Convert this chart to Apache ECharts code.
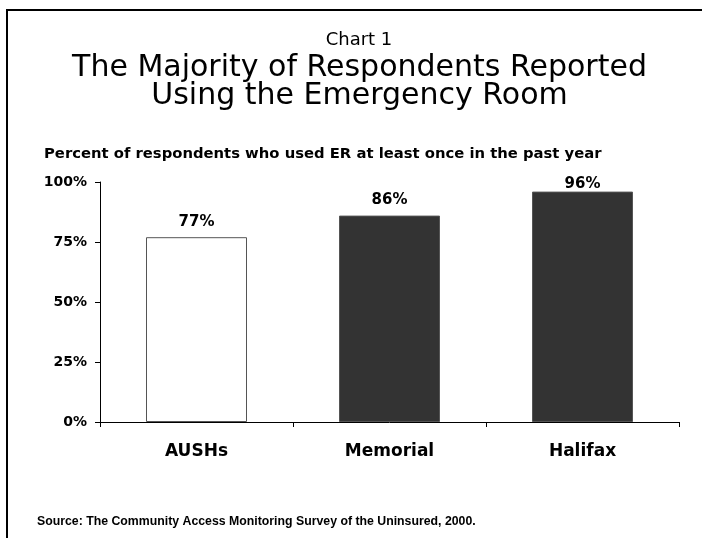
<!DOCTYPE html>
<html><head><meta charset="utf-8">
<script src="https://cdn.jsdelivr.net/npm/echarts@6/dist/echarts.min.js"></script>
<style>html,body{margin:0;padding:0;background:#fff}#c{width:702px;height:538px}</style>
</head><body><div id="c"></div>
<script>
var categories = ['AUSHs', 'Memorial', 'Halifax'];
var values = [77, 86, 96];
var barColors = ['#ffffff', '#333333', '#333333'];
var labelDistances = [8, 8, 0];
var yTicks = [0, 25, 50, 75, 100];
var titleLines = ['The Majority of Respondents Reported', 'Using the Emergency Room'];

var chart = echarts.init(document.getElementById('c'));
chart.setOption({
  animation: false,
  backgroundColor: '#fff',
  graphic: [
    {type: 'rect', shape: {x: 7, y: 10, width: 720, height: 560},
     style: {fill: 'none', stroke: '#000', lineWidth: 2}},
    {type: 'text', x: 359, y: 40.5,
     style: {text: 'Chart 1', align: 'center', verticalAlign: 'middle', fill: '#000',
             font: 'normal 18px "DejaVu Sans"'}},
    {type: 'text', x: 359.5, y: 68.5,
     style: {text: titleLines[0], align: 'center', verticalAlign: 'middle', fill: '#000',
             font: 'normal 30px "DejaVu Sans"'}},
    {type: 'text', x: 359.5, y: 96.5,
     style: {text: titleLines[1], align: 'center', verticalAlign: 'middle', fill: '#000',
             font: 'normal 30px "DejaVu Sans"'}}
  ],
  title: [
    {text: 'Percent of respondents who used ER at least once in the past year', left: 39, top: 142,
     textStyle: {fontFamily: 'DejaVu Sans', fontWeight: 'bold', fontSize: 14.8, color: '#000'}},
    {text: 'Source: The Community Access Monitoring Survey of the Uninsured, 2000.', left: 32, top: 511,
     textStyle: {fontFamily: 'Liberation Sans', fontWeight: 'bold', fontSize: 12.3, color: '#000'}}
  ],
  grid: {left: 100, right: 23, top: 182, bottom: 116, containLabel: false},
  xAxis: {
    type: 'category', data: categories,
    axisLine: {lineStyle: {color: '#000', width: 1}},
    axisTick: {show: true, length: 5, lineStyle: {color: '#000'}},
    axisLabel: {fontFamily: 'DejaVu Sans', fontWeight: 'bold', fontSize: 17, color: '#000', margin: 21}
  },
  yAxis: {
    type: 'value', min: 0, max: 100, interval: 25,
    axisLine: {show: true, lineStyle: {color: '#000', width: 1}},
    axisTick: {show: true, length: 5, lineStyle: {color: '#000'}},
    splitLine: {show: false},
    axisLabel: {fontFamily: 'DejaVu Sans', fontWeight: 'bold', fontSize: 14, color: '#000', margin: 13,
      formatter: function (v) { return yTicks.indexOf(v) >= 0 ? v + '%' : ''; }}
  },
  series: [{
    type: 'bar', barWidth: 101,
    data: values.map(function (v, i) {
      return {value: v, itemStyle: {color: barColors[i], borderColor: '#555', borderWidth: 1},
              label: {distance: labelDistances[i]}};
    }),
    label: {show: true, position: 'top', formatter: '{c}%',
      fontFamily: 'DejaVu Sans', fontWeight: 'bold', fontSize: 15, color: '#000'}
  }]
});
</script></body></html>
